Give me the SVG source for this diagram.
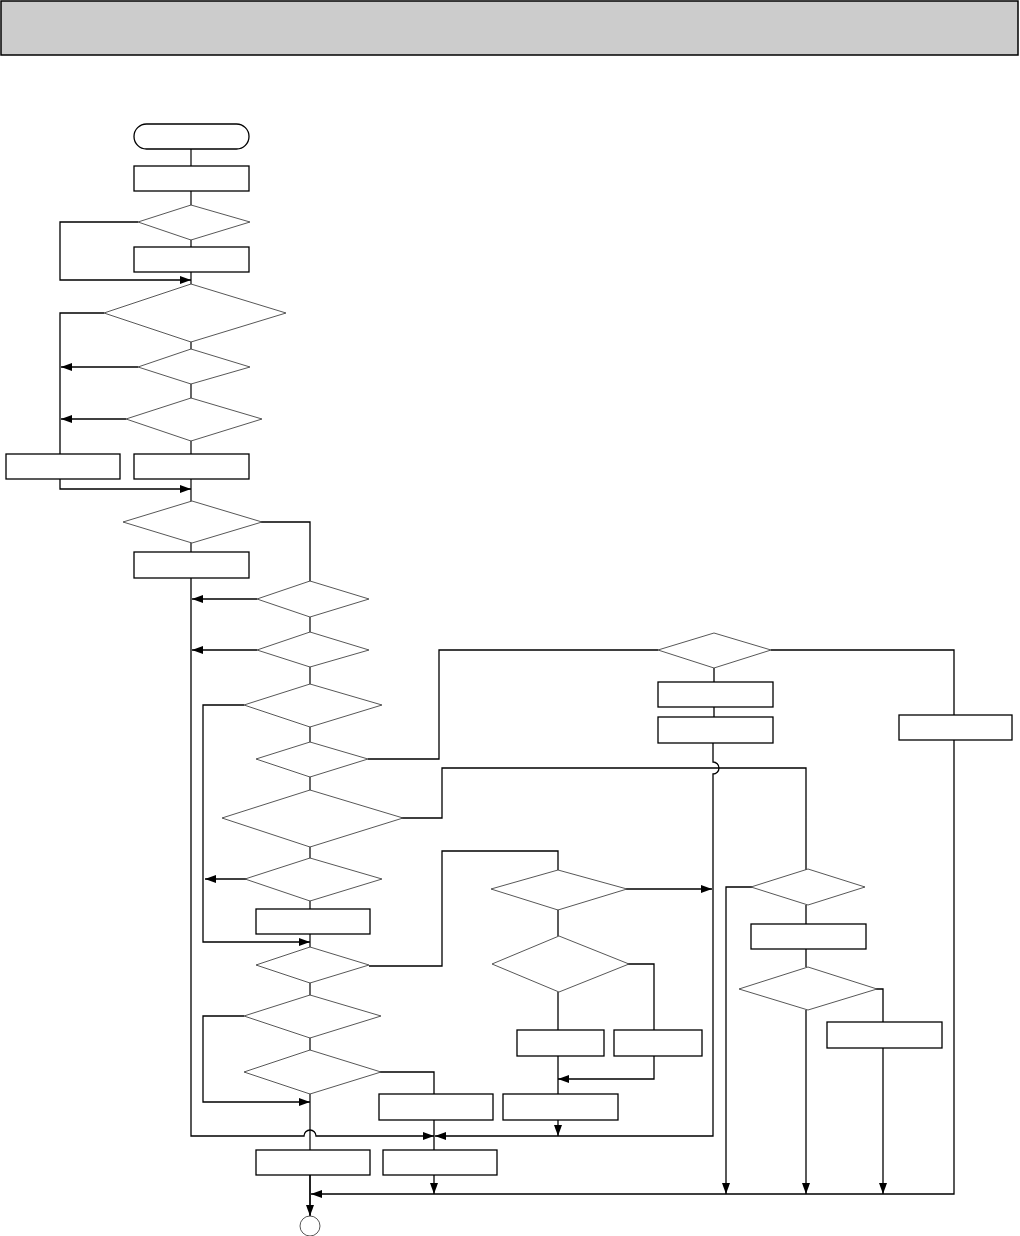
<svg xmlns="http://www.w3.org/2000/svg" width="1020" height="1236" viewBox="0 0 1020 1236">
<style>
.box{fill:#fff;stroke:#000;stroke-width:1.3}
.dia{fill:#fff;stroke:#444;stroke-width:0.9}
.ln{fill:none;stroke:#000;stroke-width:1.3}
.sp{fill:none;stroke:#555;stroke-width:1.8}
</style>
<defs>
<marker id="ah" markerWidth="11" markerHeight="8" refX="11" refY="4" orient="auto" markerUnits="userSpaceOnUse"><path d="M0,0 L11,4 L0,8 z" fill="#000"/></marker>
</defs>
<rect x="1" y="1" width="1017" height="54" fill="#cccccc" stroke="#000" stroke-width="1.5"/>
<g id="connectors">
<!-- spines -->
<path class="sp" d="M191,149 V552"/>
<path class="sp" d="M310,617 V1216"/>
<path class="ln" d="M191,578 V1136 H304 A6,6 0 0 1 316,1136 H434" marker-end="url(#ah)"/>
<!-- column A loops -->
<path class="ln" d="M138,222 H60 V280 H191" marker-end="url(#ah)"/>
<path class="ln" d="M104,313 H60 V454"/>
<path class="ln" d="M138,367 H61" marker-end="url(#ah)"/>
<path class="ln" d="M126,419 H61" stroke-width="2" marker-end="url(#ah)"/>
<path class="ln" d="M60,479 V489 H191" marker-end="url(#ah)"/>
<path class="ln" d="M261,522 H310 V582"/>
<!-- column B branches -->
<path class="ln" d="M257,599 H192" marker-end="url(#ah)"/>
<path class="ln" d="M257,650 H192" marker-end="url(#ah)"/>
<path class="ln" d="M244,705 H203 V942 H310" marker-end="url(#ah)"/>
<path class="ln" d="M246,879 H205" marker-end="url(#ah)"/>
<path class="ln" d="M368,759 H439 V650 H658"/>
<path class="ln" d="M401,818 H442 V768 H806 V870"/>
<path class="ln" d="M369,966 H442 V851 H558 V870"/>
<path class="ln" d="M244,1016 H203 V1102 H310" marker-end="url(#ah)"/>
<path class="ln" d="M380,1072 H434 V1094"/>
<path class="ln" d="M434,1120 V1150"/>
<path class="ln" d="M434,1175 V1194" marker-end="url(#ah)"/>
<path class="ln" d="M310,1175 V1216" marker-end="url(#ah)"/>
<!-- D10 column -->
<path class="ln" d="M714,668 V717"/>
<path class="ln" d="M713,743 V762 A6,6 0 0 1 713,774 V1136 H435" marker-end="url(#ah)"/>
<path class="ln" d="M771,650 H954 V1194 H311" marker-end="url(#ah)"/>
<!-- center column -->
<path class="ln" d="M626,889 H712" marker-end="url(#ah)"/>
<path class="ln" d="M558,909 V936"/>
<path class="ln" d="M558,992 V1030"/>
<path class="ln" d="M626,964 H654 V1030"/>
<path class="ln" d="M654,1056 V1079 H558" marker-end="url(#ah)"/>
<path class="ln" d="M558,1056 V1094"/>
<path class="ln" d="M558,1120 V1136" marker-end="url(#ah)"/>
<!-- right column -->
<path class="ln" d="M752,887 H726 V1194" marker-end="url(#ah)"/>
<path class="ln" d="M806,905 V924"/>
<path class="ln" d="M806,949 V967"/>
<path class="ln" d="M806,1010 V1194" marker-end="url(#ah)"/>
<path class="ln" d="M876,989 H883 V1022"/>
<path class="ln" d="M883,1048 V1194" marker-end="url(#ah)"/>
</g>
<g id="start"><rect class="box" x="134" y="124" width="115" height="25" rx="12.5" stroke="#444" stroke-width="0.9"/></g>
<g id="box1"><rect class="box" x="134" y="166" width="115" height="25"/></g>
<g id="d1"><polygon class="dia" points="191,205 250,222 191,240 138,222"/></g>
<g id="box2"><rect class="box" x="134" y="247" width="115" height="25"/></g>
<g id="d2"><polygon class="dia" points="191,284 286,313 191,342 104,313"/></g>
<g id="d3"><polygon class="dia" points="191,349 250,367 191,384 138,367"/></g>
<g id="d4"><polygon class="dia" points="191,398 262,419 191,441 126,419"/></g>
<g id="boxL"><rect class="box" x="6" y="454" width="114" height="25"/></g>
<g id="box3"><rect class="box" x="134" y="454" width="115" height="25"/></g>
<g id="d5"><polygon class="dia" points="192,501 262,522 192,543 123,522"/></g>
<g id="box4"><rect class="box" x="134" y="552" width="115" height="26"/></g>
<g id="d6"><polygon class="dia" points="310,581 369,599 310,617 257,599"/></g>
<g id="d7"><polygon class="dia" points="310,632 369,650 310,667 257,650"/></g>
<g id="d8"><polygon class="dia" points="310,684 382,705 310,727 244,705"/></g>
<g id="d9"><polygon class="dia" points="310,742 368,759 310,777 256,759"/></g>
<g id="d9b"><polygon class="dia" points="310,790 403,818 310,847 222,818"/></g>
<g id="d9c"><polygon class="dia" points="310,858 382,879 310,901 245,879"/></g>
<g id="box5"><rect class="box" x="256" y="909" width="114" height="25"/></g>
<g id="d11"><polygon class="dia" points="310,947 369,965 310,983 256,965"/></g>
<g id="d12"><polygon class="dia" points="310,995 381,1016 310,1038 244,1016"/></g>
<g id="d13"><polygon class="dia" points="310,1050 381,1072 310,1094 244,1072"/></g>
<g id="box6"><rect class="box" x="379" y="1094" width="114" height="26"/></g>
<g id="box7"><rect class="box" x="503" y="1094" width="115" height="26"/></g>
<g id="box8"><rect class="box" x="256" y="1150" width="114" height="25"/></g>
<g id="box9"><rect class="box" x="383" y="1150" width="114" height="25"/></g>
<g id="end"><circle cx="310" cy="1226" r="10" fill="#fff" stroke="#444" stroke-width="0.9"/></g>
<g id="d10"><polygon class="dia" points="714,633 771,650 714,668 658,650"/></g>
<g id="box10a"><rect class="box" x="658" y="682" width="115" height="25"/></g>
<g id="box10b"><rect class="box" x="658" y="717" width="115" height="26"/></g>
<g id="boxR"><rect class="box" x="899" y="715" width="113" height="25"/></g>
<g id="d14"><polygon class="dia" points="558,870 627,889 558,910 491,889"/></g>
<g id="d15"><polygon class="dia" points="559,936 629,964 559,992 492,964"/></g>
<g id="box11"><rect class="box" x="517" y="1030" width="87" height="26"/></g>
<g id="box12"><rect class="box" x="614" y="1030" width="88" height="26"/></g>
<g id="d16"><polygon class="dia" points="808,869 865,887 808,905 751,887"/></g>
<g id="box13"><rect class="box" x="751" y="924" width="115" height="25"/></g>
<g id="d17"><polygon class="dia" points="808,967 877,989 808,1010 739,989"/></g>
<g id="box14"><rect class="box" x="827" y="1022" width="115" height="26"/></g>
</svg>
